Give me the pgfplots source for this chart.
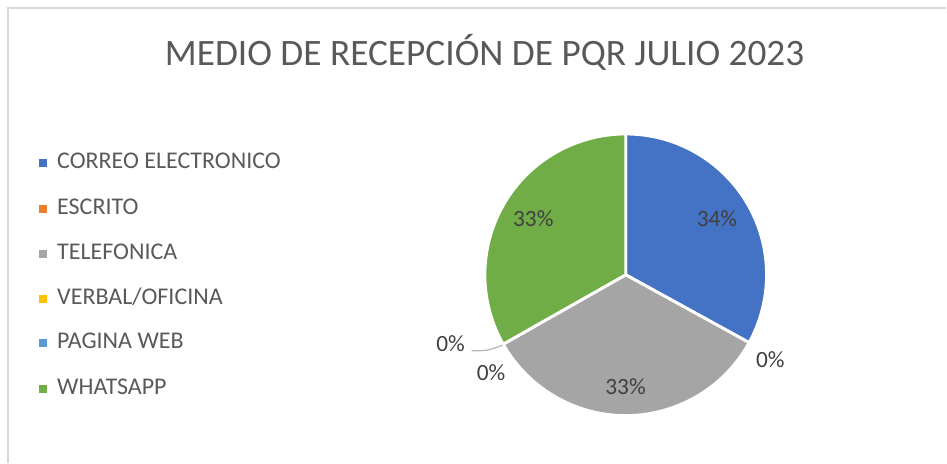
\documentclass[border=0pt]{standalone}
\usepackage{fontspec}
\setmainfont{Carlito}
\usepackage{pgfplots}
\pgfplotsset{compat=1.18}
\definecolor{cBlue}{HTML}{4472C4}
\definecolor{cOrange}{HTML}{ED7D31}
\definecolor{cGray}{HTML}{A5A5A5}
\definecolor{cYellow}{HTML}{FFC000}
\definecolor{cLBlue}{HTML}{5B9BD5}
\definecolor{cGreen}{HTML}{70AD47}
\definecolor{txtGray}{HTML}{595959}
\definecolor{lblGray}{HTML}{404040}
\definecolor{frameGray}{HTML}{D9D9D9}
\begin{document}
\begin{tikzpicture}
% data (percent shares, as drawn)
\def\vCorreo{33.0}
\def\vEscrito{0}
\def\vTelef{33.8}
\def\vVerbal{0}
\def\vWeb{0}
\def\vWhats{33.2}
\pgfmathsetmacro\aA{90-3.6*\vCorreo}
\pgfmathsetmacro\aB{\aA-3.6*\vEscrito}
\pgfmathsetmacro\aC{\aB-3.6*\vTelef}
\pgfmathsetmacro\aD{\aC-3.6*\vVerbal}
\pgfmathsetmacro\aE{\aD-3.6*\vWeb}
\pgfmathsetmacro\aF{\aE-3.6*\vWhats}
\def\R{105.7pt}
\begin{axis}[scale only axis, width=710.25pt, height=347.25pt,
  xmin=0, xmax=947, ymin=-463, ymax=0, hide axis, clip=false]
\path (axis cs:0,0) rectangle (axis cs:947,-463);
% frame
\draw[frameGray, line width=1.1pt] (axis cs:8,-463) -- (axis cs:8,-8) -- (axis cs:947,-8);
% title
\node[anchor=base, inner sep=0pt, font=\fontsize{28}{30}\selectfont, text=txtGray]
  at (axis cs:485,-66) {MEDIO DE RECEPCIÓN DE PQR JULIO 2023};
% pie slices
\fill[cBlue, draw=white, line width=2.2pt] (axis cs:626.2,-275) -- ++(90:\R) arc[start angle=90, end angle=\aA, radius=\R] -- cycle;
\fill[cGray, draw=white, line width=2.2pt] (axis cs:626.2,-275) -- ++(\aB:\R) arc[start angle=\aB, end angle=\aC, radius=\R] -- cycle;
\fill[cGreen, draw=white, line width=2.2pt] (axis cs:626.2,-275) -- ++(\aE:\R) arc[start angle=\aE, end angle=\aF, radius=\R] -- cycle;
% data labels
\begin{scope}[every node/.style={inner sep=0pt, font=\fontsize{17.5}{20}\selectfont, text=lblGray}]
\node at (axis cs:717.5,-218.7) {34\%};
\node at (axis cs:533.7,-218.7) {33\%};
\node at (axis cs:626,-386.7) {33\%};
\node at (axis cs:771,-360) {0\%};
\node at (axis cs:451,-344) {0\%};
\node at (axis cs:491.5,-373) {0\%};
\end{scope}
\draw[cGray!90!black!70, line width=0.9pt] (axis cs:472,-351) .. controls (axis cs:488,-351) .. (axis cs:503,-345.5);
% legend
\begin{scope}[every node/.style={anchor=base west, inner sep=0pt, font=\fontsize{18}{20}\selectfont, text=txtGray}]
\fill[cBlue]   (axis cs:39.5,-159) rectangle (axis cs:47.5,-167);
\node at (axis cs:57,-169) {CORREO ELECTRONICO};
\fill[cOrange] (axis cs:39.5,-205) rectangle (axis cs:47.5,-213);
\node at (axis cs:57,-215) {ESCRITO};
\fill[cGray]   (axis cs:39.5,-250) rectangle (axis cs:47.5,-258);
\node at (axis cs:57,-260) {TELEFONICA};
\fill[cYellow] (axis cs:39.5,-295) rectangle (axis cs:47.5,-303);
\node at (axis cs:57,-305) {VERBAL/OFICINA};
\fill[cLBlue]  (axis cs:39.5,-339) rectangle (axis cs:47.5,-347);
\node at (axis cs:57,-349) {PAGINA WEB};
\fill[cGreen]  (axis cs:39.5,-385) rectangle (axis cs:47.5,-393);
\node at (axis cs:57,-395) {WHATSAPP};
\end{scope}
\end{axis}
\end{tikzpicture}
\end{document}
